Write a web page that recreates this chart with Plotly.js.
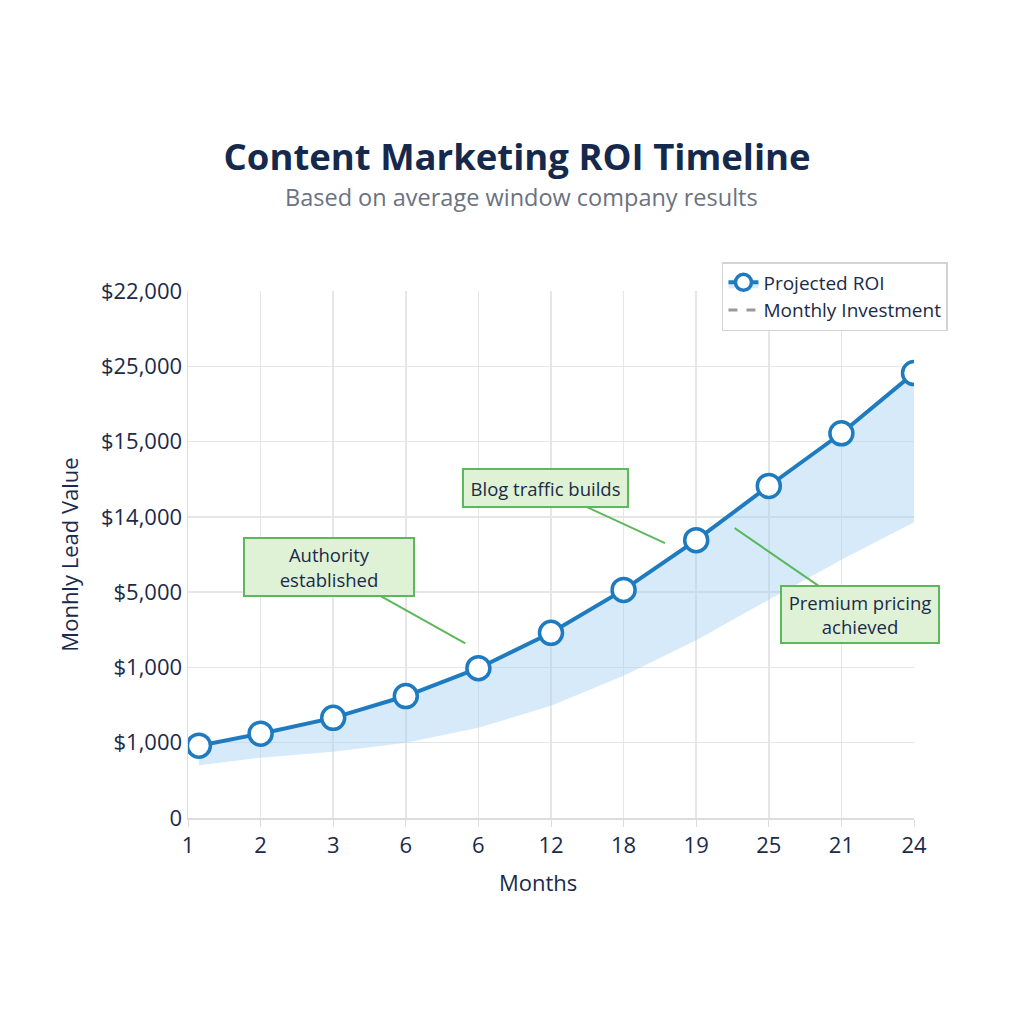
<!DOCTYPE html>
<html>
<head>
<meta charset="utf-8">
<script src="https://cdn.plot.ly/plotly-3.0.1.min.js"></script>
<style>
  html, body { margin: 0; padding: 0; background: #ffffff; }
  #chart { width: 1024px; height: 1024px; }
</style>
</head>
<body>
<div id="chart"></div>
<script>
/* ── Content marketing ROI timeline ── */

// x positions are tick slots (the month labels are not in order)
const monthSlots  = [0.15, 1, 2, 3, 4, 5, 6, 7, 8, 9, 10];
const monthLabels = ['1', '2', '3', '6', '6', '12', '18', '19', '25', '21', '24'];

// y values are in tick slots as well
const valueLabels = ['0', '$1,000', '$1,000', '$5,000', '$14,000', '$15,000', '$25,000', '$22,000'];

const projectedRoi      = [0.96, 1.12, 1.33, 1.62, 1.99, 2.46, 3.03, 3.69, 4.41, 5.11, 5.91];
const monthlyInvestment = [0.70, 0.80, 0.88, 1.00, 1.20, 1.49, 1.89, 2.36, 2.90, 3.43, 3.93];

const callouts = [
  { text: 'Authority<br>established',    x: 3.82, y: 2.32, ax: -136, ay: -76, w: 162, h: 50 },
  { text: 'Blog traffic builds',         x: 6.57, y: 3.65, ax: -119, ay: -55, w: 157, h: 30 },
  { text: 'Premium pricing<br>achieved', x: 7.53, y: 3.85, ax: 125,  ay: 86,  w: 150, h: 49 },
];

const NAVY = '#1b2a4a';
const BLUE = '#1f7bc0';
const GRID = '#e6e6e6';
const FONT = '"Open Sans", Lato, sans-serif';

const traces = [
  {
    x: monthSlots,
    y: monthlyInvestment,
    mode: 'lines',
    line: { color: 'rgba(0,0,0,0)', width: 0 },
    showlegend: false,
    hoverinfo: 'skip',
  },
  {
    x: monthSlots,
    y: projectedRoi,
    mode: 'lines+markers',
    name: 'Projected ROI',
    fill: 'tonexty',
    fillcolor: 'rgba(165,208,242,0.45)',
    line: { color: BLUE, width: 4 },
    marker: { size: 23, color: '#ffffff', line: { color: BLUE, width: 3.5 } },
  },
  {
    // legend entry only
    x: [null],
    y: [null],
    mode: 'lines',
    name: 'Monthly Investment',
    line: { color: '#9a9a9a', width: 3, dash: 'dash' },
  },
];

const layout = {
  width: 1024,
  height: 1024,
  paper_bgcolor: '#ffffff',
  plot_bgcolor: '#ffffff',
  margin: { t: 291, b: 206, l: 188, r: 110 },
  font: { family: FONT, color: NAVY, size: 19 },
  title: {
    text: '<b>Content Marketing ROI Timeline</b>',
    font: { family: FONT, size: 36.5, color: '#15294d' },
    x: 0.505, xanchor: 'center',
    y: 0.846, yanchor: 'middle',
    yref: 'container',
  },
  xaxis: {
    range: [0, 10],
    tickvals: monthLabels.map((_, i) => i),
    ticktext: monthLabels,
    tickfont: { size: 22, color: NAVY },
    gridcolor: GRID,
    gridwidth: 1.5,
    showline: true,
    linecolor: '#dcdcdc',
    linewidth: 1.5,
    zeroline: false,
    ticks: 'outside',
    ticklen: 7,
    tickcolor: '#dcdcdc',
  },
  yaxis: {
    range: [0, 7],
    tickvals: valueLabels.map((_, i) => i),
    ticktext: valueLabels,
    tickfont: { size: 22, color: NAVY },
    gridcolor: GRID,
    gridwidth: 1.5,
    showline: true,
    linecolor: '#dcdcdc',
    linewidth: 1.5,
    zeroline: false,
    ticks: '',
    ticklabelstandoff: 0,
    title: { text: 'Monhly Lead Value', font: { size: 22, color: NAVY }, standoff: 16 },
  },
  legend: {
    x: 0.7355, xanchor: 'left',
    y: 1.055, yanchor: 'top',
    traceorder: 'normal',
    bgcolor: '#ffffff',
    bordercolor: '#d3d3d3',
    borderwidth: 1.5,
    font: { size: 19, color: NAVY },
    tracegroupgap: 6,
  },
  annotations: [
    {
      text: 'Based on average window company results',
      xref: 'paper', yref: 'paper',
      x: 0.4587, y: 1.178,
      xanchor: 'center', yanchor: 'middle',
      showarrow: false,
      font: { size: 23.5, color: '#6b7280' },
    },
    {
      text: 'Months',
      xref: 'paper', yref: 'paper',
      x: (538 - 188) / 726, y: -(882 - 818) / 527,
      xanchor: 'center', yanchor: 'middle',
      showarrow: false,
      font: { size: 22, color: NAVY },
    },
    ...callouts.map(c => ({
      text: c.text,
      x: c.x, y: c.y,
      ax: c.ax, ay: c.ay,
      width: c.w, height: c.h,
      showarrow: true,
      arrowhead: 0,
      arrowwidth: 2,
      arrowcolor: '#5cb85c',
      bgcolor: '#dff2d6',
      bordercolor: '#5cb85c',
      borderwidth: 2,
      borderpad: 3,
      font: { size: 18.5, color: NAVY },
      align: 'center',
      valign: 'middle',
    })),
  ],
  showlegend: true,
};

Plotly.newPlot('chart', traces, layout, { displayModeBar: false, staticPlot: true });
</script>
</body>
</html>
